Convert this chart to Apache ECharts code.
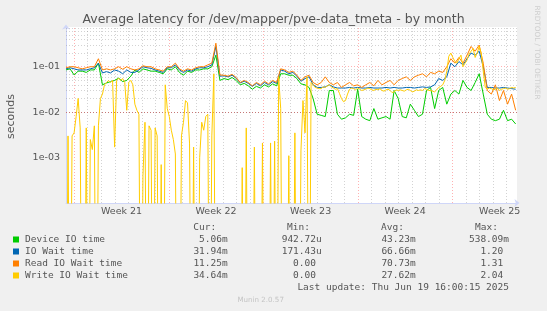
<!DOCTYPE html>
<html><head><meta charset="utf-8">
<script src="https://cdn.jsdelivr.net/npm/echarts@6/dist/echarts.min.js"></script>
<style>html,body{margin:0;padding:0;background:#f0f0f0;}#c{width:547px;height:311px;}</style>
</head><body><div id="c"></div>
<script>
// ---- data ----
const seriesNames = ['Device IO time', 'IO Wait time', 'Read IO Wait time', 'Write IO Wait time'];
const seriesColors = ['#00cc00', '#0066b3', '#ff8000', '#ffcc00'];
const stepDays = 0.3;       // sample spacing (days from the graph's left edge)
const writeStepDays = 0.15; // finer sampling for the spiky write series

const deviceIO = [
  0.085, 0.09, 0.066, 0.08, 0.08, 0.075, 0.085, 0.085, 0.12, 0.04,
  0.044, 0.047, 0.05, 0.056, 0.047, 0.05, 0.062, 0.085, 0.075, 0.09,
  0.085, 0.08, 0.08, 0.075, 0.07, 0.09, 0.085, 0.1, 0.075, 0.065,
  0.08, 0.075, 0.085, 0.085, 0.09, 0.09, 0.1, 0.18, 0.05,
  0.055, 0.052, 0.058, 0.05, 0.04, 0.043, 0.038, 0.032, 0.037, 0.034, 0.04, 0.036, 0.042, 0.038, 0.07, 0.07, 0.065, 0.065, 0.055, 0.042, 0.04, 0.035, 0.02,
  0.009, 0.0085, 0.008, 0.03, 0.03, 0.009, 0.007, 0.0075, 0.009, 0.0085, 0.032, 0.008, 0.007, 0.0065, 0.012,
  0.007, 0.0075, 0.008, 0.007, 0.03, 0.02, 0.008, 0.0075, 0.015, 0.011, 0.008, 0.009, 0.03, 0.035, 0.012, 0.03, 0.035,
  0.015, 0.025, 0.03, 0.025, 0.05, 0.035, 0.03, 0.045, 0.07, 0.025, 0.009, 0.007, 0.0065, 0.007, 0.011, 0.0065, 0.007, 0.0055
];
const ioWait = [
  0.09, 0.095, 0.09, 0.085, 0.085, 0.085, 0.09, 0.095, 0.12, 0.073,
  0.078, 0.073, 0.085, 0.08, 0.07, 0.085, 0.075, 0.075, 0.085, 0.1,
  0.095, 0.092, 0.085, 0.08, 0.075, 0.095, 0.095, 0.11, 0.085, 0.075,
  0.085, 0.08, 0.09, 0.095, 0.095, 0.1, 0.11, 0.28, 0.062,
  0.063, 0.06, 0.065, 0.056, 0.044, 0.048, 0.043, 0.037, 0.043, 0.038, 0.045, 0.04, 0.047, 0.043, 0.085, 0.08, 0.07, 0.075, 0.062, 0.048, 0.055, 0.06, 0.04,
  0.035, 0.035, 0.036, 0.04, 0.036, 0.034, 0.034, 0.034, 0.035, 0.034, 0.035, 0.034, 0.034, 0.035, 0.034,
  0.034, 0.034, 0.035, 0.034, 0.035, 0.034, 0.034, 0.035, 0.035, 0.034, 0.035, 0.036, 0.035, 0.036, 0.04, 0.055, 0.05,
  0.06, 0.12, 0.1, 0.13, 0.11, 0.15, 0.2, 0.18, 0.22, 0.1, 0.035, 0.035, 0.034, 0.034, 0.035, 0.034, 0.033, 0.032
];
const readWait = [
  0.095, 0.1, 0.1, 0.095, 0.09, 0.095, 0.1, 0.1, 0.15, 0.085,
  0.09, 0.085, 0.09, 0.1, 0.088, 0.1, 0.09, 0.085, 0.09, 0.105,
  0.1, 0.1, 0.09, 0.085, 0.08, 0.1, 0.1, 0.12, 0.09, 0.08,
  0.09, 0.085, 0.095, 0.1, 0.1, 0.11, 0.12, 0.33, 0.066,
  0.065, 0.062, 0.068, 0.058, 0.045, 0.05, 0.045, 0.038, 0.045, 0.04, 0.048, 0.042, 0.05, 0.045, 0.09, 0.085, 0.075, 0.08, 0.065, 0.05, 0.06, 0.065, 0.045,
  0.04, 0.045, 0.06, 0.045, 0.04, 0.045, 0.035, 0.04, 0.045, 0.038, 0.04, 0.035, 0.04, 0.045, 0.038,
  0.05, 0.04, 0.045, 0.05, 0.04, 0.05, 0.055, 0.06, 0.05, 0.06, 0.065, 0.07, 0.06, 0.075, 0.07, 0.08, 0.075,
  0.1, 0.15, 0.12, 0.16, 0.12, 0.18, 0.28, 0.22, 0.3, 0.12, 0.03, 0.025, 0.04, 0.018, 0.03, 0.015, 0.025, 0.011
];
// 0 = no write wait in that interval (drawn off the bottom of the log scale, as rrdtool does)
const writeWait = [
  0, 0.003, 0, 0.003, 0.0035, 0.008, 0.02, 0.0045, 0, 0,
  0.0045, 0, 0.0025, 0.0015, 0.005, 0, 0.005, 0.02, 0.025, 0.04,
  0.045, 0.05, 0.045, 0.05, 0.0017, 0.05, 0.056, 0.05, 0.055, 0.045,
  0.011, 0.045, 0.05, 0.04, 0.015, 0.011, 0.009, 0, 0.0004, 0.006,
  0, 0.005, 0.004, 0, 0.0045, 0.003, 0, 0.0007, 0, 0.04,
  0.012, 0.008, 0.004, 0.0025, 0.0012, 0, 0, 0.003, 0.006, 0.018,
  0.016, 0.002, 0, 0.0017, 0, 0, 0.001, 0.006, 0.004, 0.008,
  0.009, 0, 0.003, 0.07, 0, 0, 0, 0, 0, 0,
  0, 0, 0, 0, 0, 0, 0, 0.0006, 0, 0.0045,
  0, 0, 0, 0.0017, 0, 0, 0, 0.0021, 0, 0,
  0, 0.0021, 0, 0.0023, 0, 0.06, 0.012, 0, 0, 0,
  0.0011, 0, 0, 0.0035, 0, 0, 0.0014, 0.018, 0.0035, 0.06,
  0, 0.045, 0.04, 0.035,
  0.034, 0.033, 0.033, 0.036, 0.035, 0.038, 0.04, 0.036, 0.034, 0.032,
  0.033, 0.026, 0.02, 0.017, 0.018, 0.025, 0.032, 0.034, 0.033, 0.031,
  0.034, 0.032, 0.03, 0.031, 0.032, 0.034, 0.033, 0.031, 0.03, 0.032,
  0.031, 0.033, 0.03, 0.029, 0.031, 0.032, 0.03, 0.027, 0.028, 0.031,
  0.03, 0.031, 0.03, 0.029, 0.031, 0.032, 0.03, 0.028, 0.029, 0.031,
  0.03, 0.031, 0.03, 0.033, 0.032, 0.03, 0.03, 0.029, 0.028, 0.031,
  0.035, 0.037, 0.04, 0.05, 0.08, 0.17, 0.2, 0.16, 0.13, 0.12,
  0.15, 0.18, 0.1, 0.12, 0.14, 0.19, 0.22, 0.25, 0.16, 0.2,
  0.28, 0.2, 0.08, 0.035, 0.032, 0.034, 0.033, 0.031, 0.032, 0.034,
  0.03, 0.032, 0.033, 0.034, 0.032, 0.033, 0.035, 0.034, 0.035
];

const weekLabels = ['Week 21', 'Week 22', 'Week 23', 'Week 24', 'Week 25'];
const weekStarts = [0.615, 7.615, 14.615, 21.615, 28.615]; // days from left edge
const xMax = 33.4;
const yMin = 1e-4, yMax = 0.75;
const logFloor = 1e-9; // where zero values are placed (far below the visible range)

const statHeaders = ['Cur:', 'Min:', 'Avg:', 'Max:'];
const statsCur = ['5.06m', '31.94m', '11.25m', '34.64m'];
const statsMin = ['942.72u', '171.43u', '0.00 ', '0.00 '];
const statsAvg = ['43.23m', '66.66m', '70.73m', '27.62m'];
const statsMax = ['538.09m', '1.20 ', '1.31 ', '2.04 '];
const lastUpdate = 'Last update: Thu Jun 19 16:00:15 2025';
const titleText = 'Average latency for /dev/mapper/pve-data_tmeta - by month';

// ---- chart ----
const chart = echarts.init(document.getElementById('c'), null, { renderer: 'canvas' });
const seriesValues = [deviceIO, ioWait, readWait, writeWait];
const seriesSteps = [stepDays, stepDays, stepDays, writeStepDays];

const GRAY = 'rgba(150,150,150,0.42)';
const RED = 'rgba(255,70,70,0.42)';
const gridLines = [];
for (let k = 0; weekStarts[0] + k < xMax; k++) {
  gridLines.push({ xAxis: weekStarts[0] + k, lineStyle: { color: k % 7 === 0 ? RED : GRAY } });
}
for (let e = -4; e <= -1; e++) {
  for (let m = 1; m <= 9; m++) {
    const v = m * Math.pow(10, e);
    if (v > yMin * 1.0001 && v < yMax) gridLines.push({ yAxis: v, lineStyle: { color: m === 1 ? RED : GRAY } });
  }
}

const series = [{
  type: 'line', data: [[0, 0.1]], showSymbol: false, symbol: 'none',
  lineStyle: { opacity: 0 }, silent: true, z: 1,
  markLine: {
    silent: true, symbol: ['none', 'none'], label: { show: false }, z: 1,
    lineStyle: { width: 1, type: [1, 2] }, emphasis: { disabled: true },
    animation: false, data: gridLines
  }
}];
seriesValues.forEach((vals, s) => {
  series.push({
    name: seriesNames[s], type: 'line', showSymbol: false, symbol: 'none',
    data: vals.map((v, i) => [i * seriesSteps[s], v > 0 ? v : logFloor]),
    lineStyle: { width: 1, color: seriesColors[s] }, itemStyle: { color: seriesColors[s] },
    clip: true, z: 2 + s, emphasis: { disabled: true }
  });
});

const labelFont = { color: '#555', fontSize: 9.5, fontFamily: 'DejaVu Sans' };
const mono = '9.5px "DejaVu Sans Mono"';
const textCol = '#555';
const graphics = [
  { type: 'text', x: 273.5, y: 19.5, style: { text: titleText, font: '12.5px "DejaVu Sans"', fill: textCol, align: 'center', verticalAlign: 'middle' } },
  { type: 'text', x: 10.7, y: 116.5, rotation: Math.PI / 2, style: { text: 'seconds', font: '11px "DejaVu Sans"', fill: textCol, align: 'center', verticalAlign: 'middle' } },
  { type: 'text', x: 536.5, y: 52.5, rotation: -Math.PI / 2, style: { text: 'RRDTOOL / TOBI OETIKER', font: '7.3px "DejaVu Sans"', fill: '#cfcfcf', align: 'center', verticalAlign: 'middle' } },
  { type: 'text', x: 260.7, y: 300, style: { text: 'Munin 2.0.57', font: '7.1px "DejaVu Sans"', fill: '#c4c4c4', align: 'center', verticalAlign: 'middle' } },
  { type: 'text', x: 509, y: 287.7, style: { text: lastUpdate, font: mono, fill: textCol, align: 'right', verticalAlign: 'middle' } }
];
const headerX = [193.3, 287, 381, 475];
const colRight = [227.7, 321.7, 415.7, 509];
statHeaders.forEach((h, c) => graphics.push({ type: 'text', x: headerX[c], y: 227.5, style: { text: h, font: mono, fill: textCol, align: 'left', verticalAlign: 'middle' } }));
const cols = [statsCur, statsMin, statsAvg, statsMax];
seriesNames.forEach((n, r) => {
  const y = 239.5 + r * 12;
  graphics.push({ type: 'rect', shape: { x: 13, y: y - 3, width: 6, height: 6 }, style: { fill: seriesColors[r] } });
  graphics.push({ type: 'text', x: 25, y: y, style: { text: n, font: mono, fill: textCol, align: 'left', verticalAlign: 'middle' } });
  cols.forEach((col, c) => graphics.push({ type: 'text', x: colRight[c], y: y, style: { text: col[r], font: mono, fill: textCol, align: 'right', verticalAlign: 'middle' } }));
});

const AXIS = '#cfd6f8';
const option = {
  backgroundColor: '#f0f0f0',
  animation: false,
  grid: { left: 66, top: 27, width: 451, height: 176, show: true, backgroundColor: '#ffffff', borderWidth: 0 },
  xAxis: {
    type: 'value', min: 0, max: xMax,
    axisLine: { show: true, onZero: false, lineStyle: { color: AXIS, width: 1 }, symbol: ['none', 'arrow'], symbolSize: [6, 5], symbolOffset: [0, 2.5] },
    axisTick: { show: false }, splitLine: { show: false },
    axisLabel: Object.assign({
      margin: 4,
      customValues: weekStarts.map(w => w + 3.5),
      formatter: v => weekLabels[Math.round((v - 3.5 - weekStarts[0]) / 7)] || ''
    }, labelFont)
  },
  yAxis: {
    type: 'log', logBase: 10, min: yMin, max: yMax,
    axisLine: { show: true, lineStyle: { color: AXIS, width: 1 }, symbol: ['none', 'arrow'], symbolSize: [6, 5], symbolOffset: [0, 2.5] },
    axisTick: { show: false }, splitLine: { show: false }, minorTick: { show: false },
    axisLabel: Object.assign({
      margin: 6, showMinLabel: false, showMaxLabel: false,
      formatter: v => {
        const e = Math.round(Math.log10(v));
        return '1e' + (e < 0 ? '-' : '+') + String(Math.abs(e)).padStart(2, '0');
      }
    }, labelFont)
  },
  series: series,
  graphic: graphics
};
chart.setOption(option);
</script>
</body></html>
